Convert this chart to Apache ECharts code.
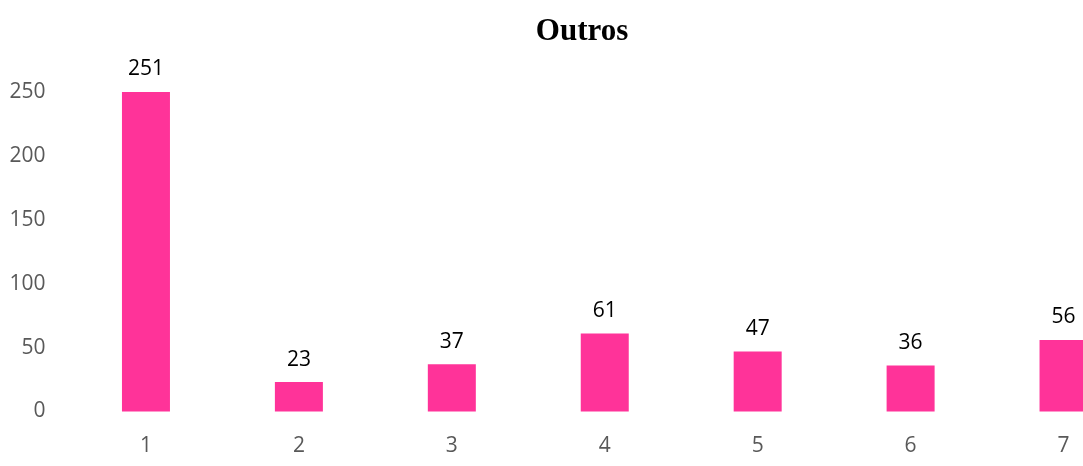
<!DOCTYPE html>
<html>
<head>
<meta charset="utf-8">
<script src="https://cdn.jsdelivr.net/npm/echarts@6/dist/echarts.min.js"></script>
<style>
html,body{margin:0;padding:0;background:#fff;}
#main{width:1083px;height:466px;}
</style>
</head>
<body>
<div id="main"></div>
<script>
var categories = ['1', '2', '3', '4', '5', '6', '7'];
var values = [251, 23, 37, 61, 47, 36, 56];
var yTicks = [0, 50, 100, 150, 200, 250];

var myChart = echarts.init(document.getElementById('main'));
var option = {
  backgroundColor: '#ffffff',
  title: {
    text: 'Outros',
    left: 577,
    textAlign: 'center',
    top: 11,
    textStyle: {
      fontFamily: 'Liberation Serif',
      fontWeight: 'bold',
      fontSize: 31,
      color: '#000'
    }
  },
  grid: {
    left: 69.5,
    right: -57,
    top: 92,
    bottom: 54.5,
    containLabel: false,
    outerBoundsMode: 'none'
  },
  xAxis: {
    type: 'category',
    data: categories,
    axisLine: { show: false },
    axisTick: { show: false },
    axisLabel: {
      margin: 24,
      fontSize: 21,
      color: '#595959',
      fontFamily: 'Open Sans'
    }
  },
  yAxis: {
    type: 'value',
    min: yTicks[0],
    max: yTicks[yTicks.length - 1],
    interval: 50,
    splitLine: { show: false },
    axisLine: { show: false },
    axisTick: { show: false },
    axisLabel: {
      margin: 24,
      fontSize: 21,
      color: '#595959',
      fontFamily: 'Open Sans'
    }
  },
  series: [
    {
      type: 'bar',
      data: values,
      barWidth: 48,
      itemStyle: { color: '#FF3399' },
      label: {
        show: true,
        position: 'top',
        distance: 12,
        fontSize: 21,
        color: '#000',
        fontFamily: 'Open Sans'
      }
    }
  ]
};
myChart.setOption(option);
</script>
</body>
</html>
